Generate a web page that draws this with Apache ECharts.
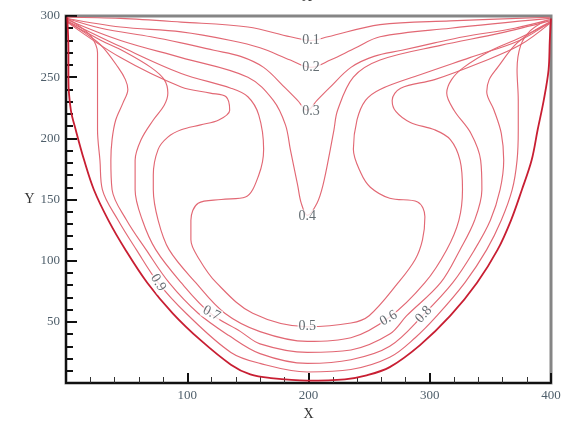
<!DOCTYPE html>
<html><head><meta charset="utf-8">
<script src="https://cdn.jsdelivr.net/npm/echarts@6/dist/echarts.min.js"></script>
<style>html,body{margin:0;padding:0;background:#fff}#c{width:567px;height:426px}</style>
</head><body><div id="c"></div>
<script>
// contour levels and their traced paths [x, y]
const levels = ['0.1','0.2','0.3','0.4','0.5','0.6','0.7','0.8','0.9','1.0'];
const c01 = [[1,299],[45,298],[95,295],[150,291],[185,283],[202,280],[216,283],[259,293],[317,296],[399,299]];
const c02 = [[1,298],[45,291],[95,287],[136,280],[160,274],[185,264],[202,258],[218,264],[239,274],[259,283],[317,290],[399,298]];
const c03 = [[1,298],[29,290],[70,283],[95,278],[122,272],[144,267],[163,258],[181,241],[191,231],[199,223],[207,231],[217,241],[235,258],[254,267],[277,272],[304,278],[328,283],[370,290],[399,297]];
const c04 = [[1,297],[45,280],[95,266],[150,250],[171,231],[181,211],[185,191],[191,162],[194,147],[199,137],[207,147],[212,162],[218,191],[221,207],[224,223],[237,250],[259,264],[309,276],[358,286],[399,296]];
const c05 = [[1,296],[45,275],[95,253],[136,241],[150,234],[159,219],[163,191],[159,170],[148,152],[128,150],[109,147],[103,133],[103,117],[110,101],[124,82],[154,57],[199,46],[235,49],[250,55],[274,82],[288,101],[294,117],[296,136],[290,148],[267,151],[251,160],[243,172],[237,191],[240,215],[247,231],[259,240],[292,252],[333,266],[374,280],[399,295]];
const c06 = [[1,295],[45,266],[95,242],[119,237],[132,234],[135,223],[126,215],[111,211],[95,207],[84,201],[76,191],[72,170],[72,158],[76,133],[85,109],[107,82],[131,57],[160,42],[199,34],[235,37],[267,54],[296,82],[314,109],[324,133],[327,158],[325,182],[317,199],[304,207],[284,213],[272,222],[269,231],[276,241],[304,248],[342,262],[374,276],[399,294]];
const c07 = [[1,295],[29,280],[48,271],[70,258],[81,248],[84,237],[81,227],[72,215],[62,199],[57,182],[57,158],[63,133],[74,109],[95,82],[119,57],[144,42],[160,32],[199,25],[235,27],[267,40],[281,55],[309,82],[325,109],[337,133],[343,158],[342,182],[334,204],[320,223],[314,237],[318,248],[328,258],[351,272],[374,282],[399,294]];
const c08 = [[1,296],[16,286],[29,276],[43,258],[49,248],[51,240],[47,229],[41,215],[38,199],[37,182],[38,158],[50,133],[66,109],[85,82],[109,57],[134,39],[160,24],[199,16],[235,19],[267,30],[295,56],[319,82],[337,109],[350,133],[358,158],[361,182],[359,204],[353,223],[347,238],[349,248],[356,258],[370,276],[383,286],[399,295]];
const c09 = [[1,298],[12,291],[21,283],[26,270],[26,248],[26,223],[26,207],[28,182],[30,158],[43,133],[58,109],[76,82],[99,57],[136,25],[160,16],[199,9],[235,11],[267,21],[288,37],[306,55],[329,82],[347,109],[359,133],[368,158],[372,182],[373,207],[373,231],[372,256],[375,276],[383,288],[395,296]];
const c10 = [[1,299],[2,272],[2,248],[4,223],[8,207],[15,182],[23,158],[35,133],[49,109],[67,82],[88,57],[111,35],[136,15],[152,7],[169,4],[199,2],[230,3],[247,6],[267,13],[292,31],[317,55],[339,82],[356,109],[367,133],[376,158],[384,182],[389,207],[394,231],[398,256],[399,280],[400,298]];
const contours = [c01,c02,c03,c04,c05,c06,c07,c08,c09,c10];

// contour labels
const labelText = ['0.1','0.2','0.3','0.4','0.5','0.6','0.7','0.8','0.9'];
const labelPos = [[202,280],[202,258],[202,222],[199,136],[199,46],[266,53],[120,57],[295,56],[76,82]];
const labelAngle = [0,0,0,0,0,30,-27,47,-58];

// axis ticks
const xTickLabels = [100,200,300,400];
const yTickLabels = [50,100,150,200,250,300];

const serif = 'Liberation Serif';
const chart = echarts.init(document.getElementById('c'), null, {renderer:'canvas'});

const series = contours.map((c, i) => ({
  type: 'line', name: levels[i], data: c, smooth: 0.35, showSymbol: false, symbol: 'none',
  silent: true, z: 2,
  lineStyle: {color: i === 9 ? '#c81e32' : '#e26874', width: i === 9 ? 1.8 : 1.15}
}));
series.push({
  type: 'scatter', symbolSize: 0, silent: true, z: 5,
  data: labelPos.map((p, i) => ({
    value: p,
    label: {show: true, position: 'inside', formatter: labelText[i], rotate: labelAngle[i],
      fontFamily: serif, fontSize: 14, color: '#3e4a50', backgroundColor: '#fff', padding: [0, 1]}
  }))
});

chart.setOption({
  animation: false,
  backgroundColor: '#fff',
  grid: {left: 66, right: 16, top: 16, bottom: 43, show: true, borderColor: '#858585', borderWidth: 3, outerBoundsMode: 'none'},
  graphic: [{type: 'text', left: 302, top: -10, style: {text: 'X', font: '14px "Liberation Serif"', fill: '#333'}}],
  xAxis: {
    type: 'value', min: 0, max: 400, interval: 100, name: 'X', nameLocation: 'middle', nameGap: 22,
    nameTextStyle: {fontFamily: serif, fontSize: 14, color: '#333'},
    axisLine: {show: true, lineStyle: {color: '#111', width: 2}},
    axisTick: {show: true, inside: true, length: 10, lineStyle: {color: '#111', width: 2}},
    minorTick: {show: true, splitNumber: 5, length: 6, lineStyle: {color: '#333', width: 1}},
    splitLine: {show: false},
    axisLabel: {margin: 6, fontFamily: serif, fontSize: 13, color: '#4e5e6a',
      formatter: v => xTickLabels.includes(v) ? String(v) : ''}
  },
  yAxis: {
    type: 'value', min: 0, max: 300, interval: 50, name: 'Y', nameLocation: 'middle', nameGap: 28, nameRotate: 0,
    nameTextStyle: {fontFamily: serif, fontSize: 14, color: '#333'},
    axisLine: {show: true, lineStyle: {color: '#111', width: 2}},
    axisTick: {show: true, inside: true, length: 11, lineStyle: {color: '#111', width: 2}},
    minorTick: {show: true, splitNumber: 5, length: 7, lineStyle: {color: '#111', width: 2}},
    splitLine: {show: false},
    axisLabel: {margin: 6, fontFamily: serif, fontSize: 13, color: '#4e5e6a',
      formatter: v => yTickLabels.includes(v) ? String(v) : ''}
  },
  series: series
});
</script>
</body></html>
